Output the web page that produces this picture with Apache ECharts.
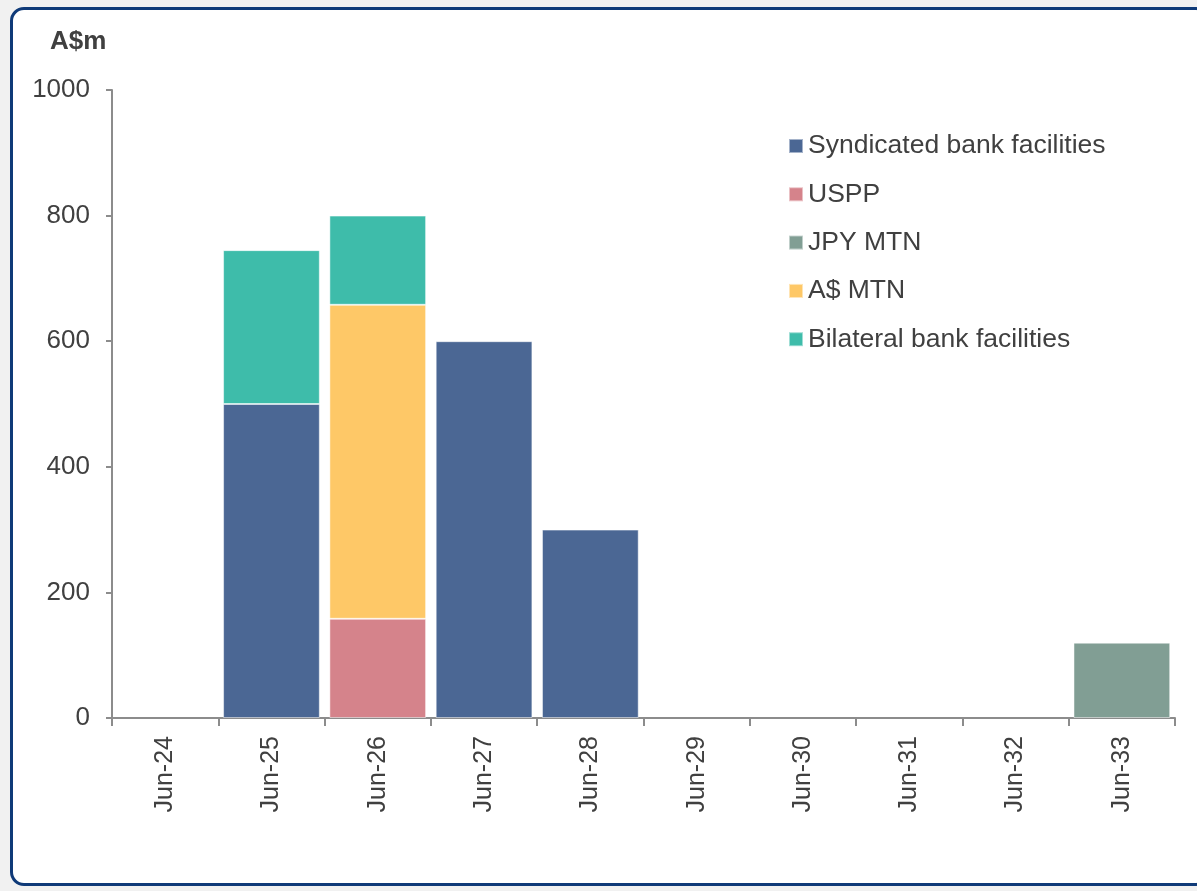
<!DOCTYPE html>
<html>
<head>
<meta charset="utf-8">
<script src="https://cdn.jsdelivr.net/npm/echarts@6/dist/echarts.min.js"></script>
<style>
  html, body { margin: 0; padding: 0; background: #f1f1f1; width: 1197px; height: 891px; overflow: hidden; }
  #panel { position: absolute; left: 10px; top: 7px; width: 1200px; height: 879px; background: #fff; border: 3px solid #0f3a78; border-radius: 14px; box-sizing: border-box; }
  #chart { position: absolute; left: 0; top: 0; width: 1197px; height: 891px; }
</style>
</head>
<body>
<div id="panel"></div>
<div id="chart"></div>
<script>
const categories = ['Jun-24','Jun-25','Jun-26','Jun-27','Jun-28','Jun-29','Jun-30','Jun-31','Jun-32','Jun-33'];
const syndicated = [0, 500, 0, 600, 300, 0, 0, 0, 0, 0];
const uspp       = [0, 0, 158, 0, 0, 0, 0, 0, 0, 0];
const jpyMtn     = [0, 0, 0, 0, 0, 0, 0, 0, 0, 120];
const audMtn     = [0, 0, 500, 0, 0, 0, 0, 0, 0, 0];
const bilateral  = [0, 245, 142, 0, 0, 0, 0, 0, 0, 0];
const yTicks = [0, 200, 400, 600, 800, 1000];

const seriesDefs = [
  { name: 'Syndicated bank facilities', data: syndicated, color: '#4b6794' },
  { name: 'USPP', data: uspp, color: '#d5838b' },
  { name: 'JPY MTN', data: jpyMtn, color: '#819e94' },
  { name: 'A$ MTN', data: audMtn, color: '#fec867' },
  { name: 'Bilateral bank facilities', data: bilateral, color: '#3ebcaa' }
];

const chart = echarts.init(document.getElementById('chart'), null, { renderer: 'canvas' });
const textColor = '#404040';
chart.setOption({
  backgroundColor: 'transparent',
  animation: false,
  textStyle: { fontFamily: 'Liberation Sans, Arial, sans-serif' },
  title: {
    text: 'A$m', left: 45, top: 24,
    textStyle: { fontSize: 26, fontWeight: 'bold', color: textColor, fontFamily: 'Liberation Sans, Arial, sans-serif' }
  },
  legend: {
    orient: 'vertical', left: 788, top: 132, padding: 0,
    itemWidth: 14, itemHeight: 14, itemGap: 20.3,
    icon: 'rect',
    textStyle: { fontSize: 26.5, lineHeight: 28, color: textColor, padding: 0 },
    data: seriesDefs.map(s => s.name)
  },
  grid: { left: 112, right: 22, top: 90, bottom: 173, containLabel: false },
  xAxis: {
    type: 'category', data: categories,
    axisLine: { show: true, lineStyle: { color: '#8c8c8c', width: 2 } },
    axisTick: { show: true, alignWithLabel: false, length: 8, lineStyle: { color: '#8c8c8c', width: 2 } },
    axisLabel: { rotate: 90, fontSize: 25, color: textColor, margin: 18, interval: 0 }
  },
  yAxis: {
    type: 'value', min: 0, max: 1000, interval: 200,
    axisLine: { show: true, lineStyle: { color: '#8c8c8c', width: 2 } },
    axisTick: { show: true, length: 6, lineStyle: { color: '#8c8c8c', width: 2 } },
    splitLine: { show: false },
    axisLabel: { fontSize: 26, color: textColor, margin: 22, padding: [6, 0, 0, 0],
      formatter: v => yTicks.includes(v) ? String(v) : '' }
  },
  series: seriesDefs.map(s => ({
    name: s.name, type: 'bar', stack: 'total',
    data: s.data.map(v => v === 0 ? null : v),
    barCategoryGap: '9%',
    itemStyle: { color: s.color, borderColor: 'rgba(255,255,255,0.5)', borderWidth: 1 },
    emphasis: { disabled: true }
  }))
});
</script>
</body>
</html>
